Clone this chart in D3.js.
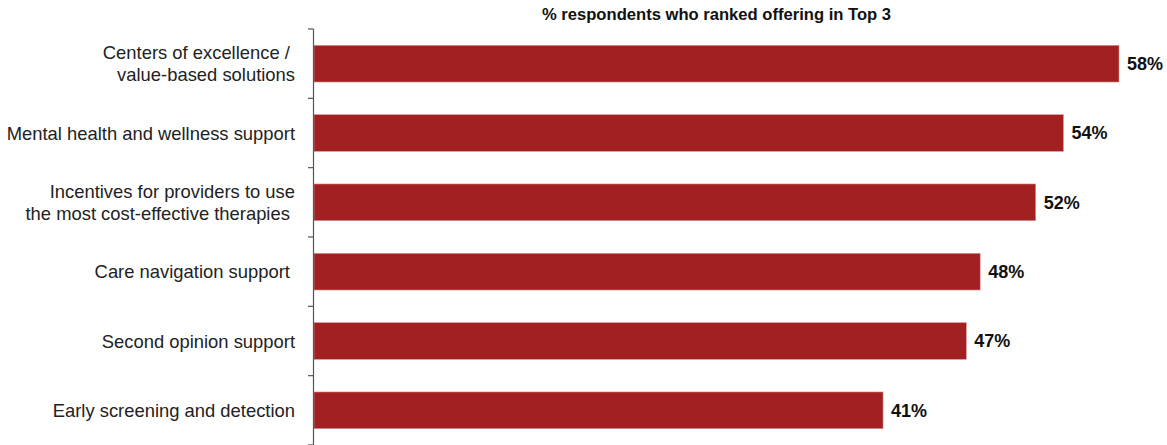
<!DOCTYPE html>
<html lang="en">
<head>
<meta charset="UTF-8">
<title>Top 3 offerings</title>
<script src="https://cdn.jsdelivr.net/npm/d3@7"></script>
<style>
    body { margin: 0; background: #fff; }
    .chart text { font-family: "Liberation Sans", Arial, sans-serif; }
    .cat-label { font-size: 18.4px; fill: #222; white-space: pre; }
    .val-label { font-size: 18px; font-weight: bold; fill: #111; }
    .title { font-size: 16.6px; font-weight: bold; fill: #111; }
</style>
</head>
<body>
<div class="chart"></div>
<script>
// data
var categories = [
    ["Centers of excellence / ", "value-based solutions"],
    ["Mental health and wellness support"],
    ["Incentives for providers to use", "the most cost-effective therapies "],
    ["Care navigation support "],
    ["Second opinion support"],
    ["Early screening and detection"]
];
var values = [58, 54, 52, 48, 47, 41];
var title = "% respondents who ranked offering in Top 3";

var width = 1167, height = 445;
var margin = { top: 29, right: 48, bottom: 0, left: 314 };

var svg = d3.select(".chart").append("svg")
    .attr("width", width)
    .attr("height", height);

var idx = d3.range(values.length);

var x = d3.scaleLinear()
    .domain([0, 58])
    .range([margin.left, 1119]);

var y = d3.scaleBand()
    .domain(idx)
    .range([margin.top, height - margin.bottom])
    .paddingInner(0.47)
    .paddingOuter(0.235);

// title
svg.append("text")
    .attr("class", "title")
    .attr("x", (x.range()[0] + x.range()[1]) / 2)
    .attr("y", 20)
    .attr("text-anchor", "middle")
    .text(title);

// bars
svg.selectAll("rect.bar")
    .data(idx)
    .enter().append("rect")
    .attr("class", "bar")
    .attr("x", x(0))
    .attr("y", function(i) { return y(i); })
    .attr("width", function(i) { return x(values[i]) - x(0); })
    .attr("height", y.bandwidth())
    .attr("fill", "#a21f22")
    .attr("stroke", "#d99a9c")
    .attr("stroke-width", 0.6);

// value labels
svg.selectAll("text.val-label")
    .data(idx)
    .enter().append("text")
    .attr("class", "val-label")
    .attr("x", function(i) { return x(values[i]) + 8; })
    .attr("y", function(i) { return y(i) + y.bandwidth() / 2; })
    .attr("dy", "0.36em")
    .text(function(i) { return values[i] + "%"; });

// axis line + ticks between bands
var bounds = d3.range(values.length + 1).map(function(k) { return margin.top + k * (height - margin.top) / values.length; });

svg.append("line")
    .attr("x1", x(0) - 0.5).attr("x2", x(0) - 0.5)
    .attr("y1", margin.top).attr("y2", height)
    .attr("stroke", "#555").attr("stroke-width", 1.2);

svg.selectAll("line.tick")
    .data(bounds)
    .enter().append("line")
    .attr("class", "tick")
    .attr("x1", x(0) - 6).attr("x2", x(0) - 0.5)
    .attr("y1", function(d) { return d; }).attr("y2", function(d) { return d; })
    .attr("stroke", "#555").attr("stroke-width", 1.2);

// category labels
var lineH = 22;
var labels = svg.selectAll("text.cat-label")
    .data(idx)
    .enter().append("text")
    .attr("class", "cat-label")
    .attr("text-anchor", "end")
    .attr("y", function(i) { return y(i) + y.bandwidth() / 2; });

labels.each(function(i) {
    var lines = categories[i];
    var t = d3.select(this);
    lines.forEach(function(s, j) {
        t.append("tspan")
            .attr("x", 295)
            .attr("dy", j === 0 ? ((-(lines.length - 1) / 2) * lineH / 18.4 + 0.36) + "em" : (lineH / 18.4) + "em")
            .text(s);
    });
});
</script>
</body>
</html>
